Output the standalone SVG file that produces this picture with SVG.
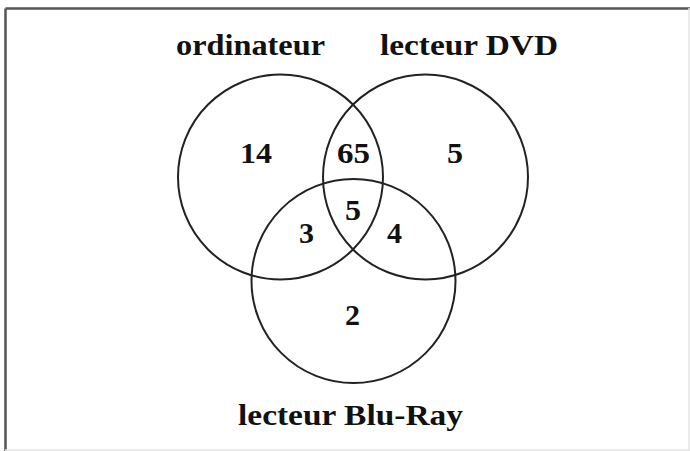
<svg xmlns="http://www.w3.org/2000/svg" width="690" height="451" viewBox="0 0 690 451">
<style>
.c{fill:none;stroke:#222;stroke-width:2}
.t{font-family:"Liberation Serif","Times New Roman",serif;font-weight:bold;font-size:29px;fill:#111}
</style>
<rect width="690" height="451" fill="#fff"/>
<g id="frame">
<line x1="5.5" y1="8.5" x2="690" y2="8.5" stroke="#555" stroke-width="2.5"/>
<line x1="5.5" y1="8.5" x2="5.5" y2="451" stroke="#555" stroke-width="2.5"/>
<line x1="689" y1="8" x2="689" y2="451" stroke="#e4e4e4" stroke-width="1.5"/>
<line x1="5" y1="450" x2="690" y2="450" stroke="#e4e4e4" stroke-width="1.5"/>
</g>
<g id="ordinateur">
<circle class="c" cx="280.5" cy="177" r="102.5"/>
<text class="t" x="176" y="55" textLength="149" lengthAdjust="spacingAndGlyphs">ordinateur</text>
</g>
<g id="dvd">
<circle class="c" cx="425.5" cy="177" r="102.5"/>
<text class="t" x="380" y="55" textLength="178" lengthAdjust="spacingAndGlyphs">lecteur DVD</text>
</g>
<g id="bluray">
<circle class="c" cx="353.5" cy="281" r="102"/>
<text class="t" x="238" y="425" textLength="225" lengthAdjust="spacingAndGlyphs">lecteur Blu-Ray</text>
</g>
<g id="values" class="t">
<text x="240" y="163" textLength="32" lengthAdjust="spacingAndGlyphs">14</text>
<text x="337" y="163" textLength="33" lengthAdjust="spacingAndGlyphs">65</text>
<text x="447" y="163" textLength="16" lengthAdjust="spacingAndGlyphs">5</text>
<text x="345" y="220" textLength="16" lengthAdjust="spacingAndGlyphs">5</text>
<text x="299" y="243" textLength="15" lengthAdjust="spacingAndGlyphs">3</text>
<text x="387" y="243" textLength="15" lengthAdjust="spacingAndGlyphs">4</text>
<text x="345" y="325" textLength="15" lengthAdjust="spacingAndGlyphs">2</text>
</g>
</svg>
